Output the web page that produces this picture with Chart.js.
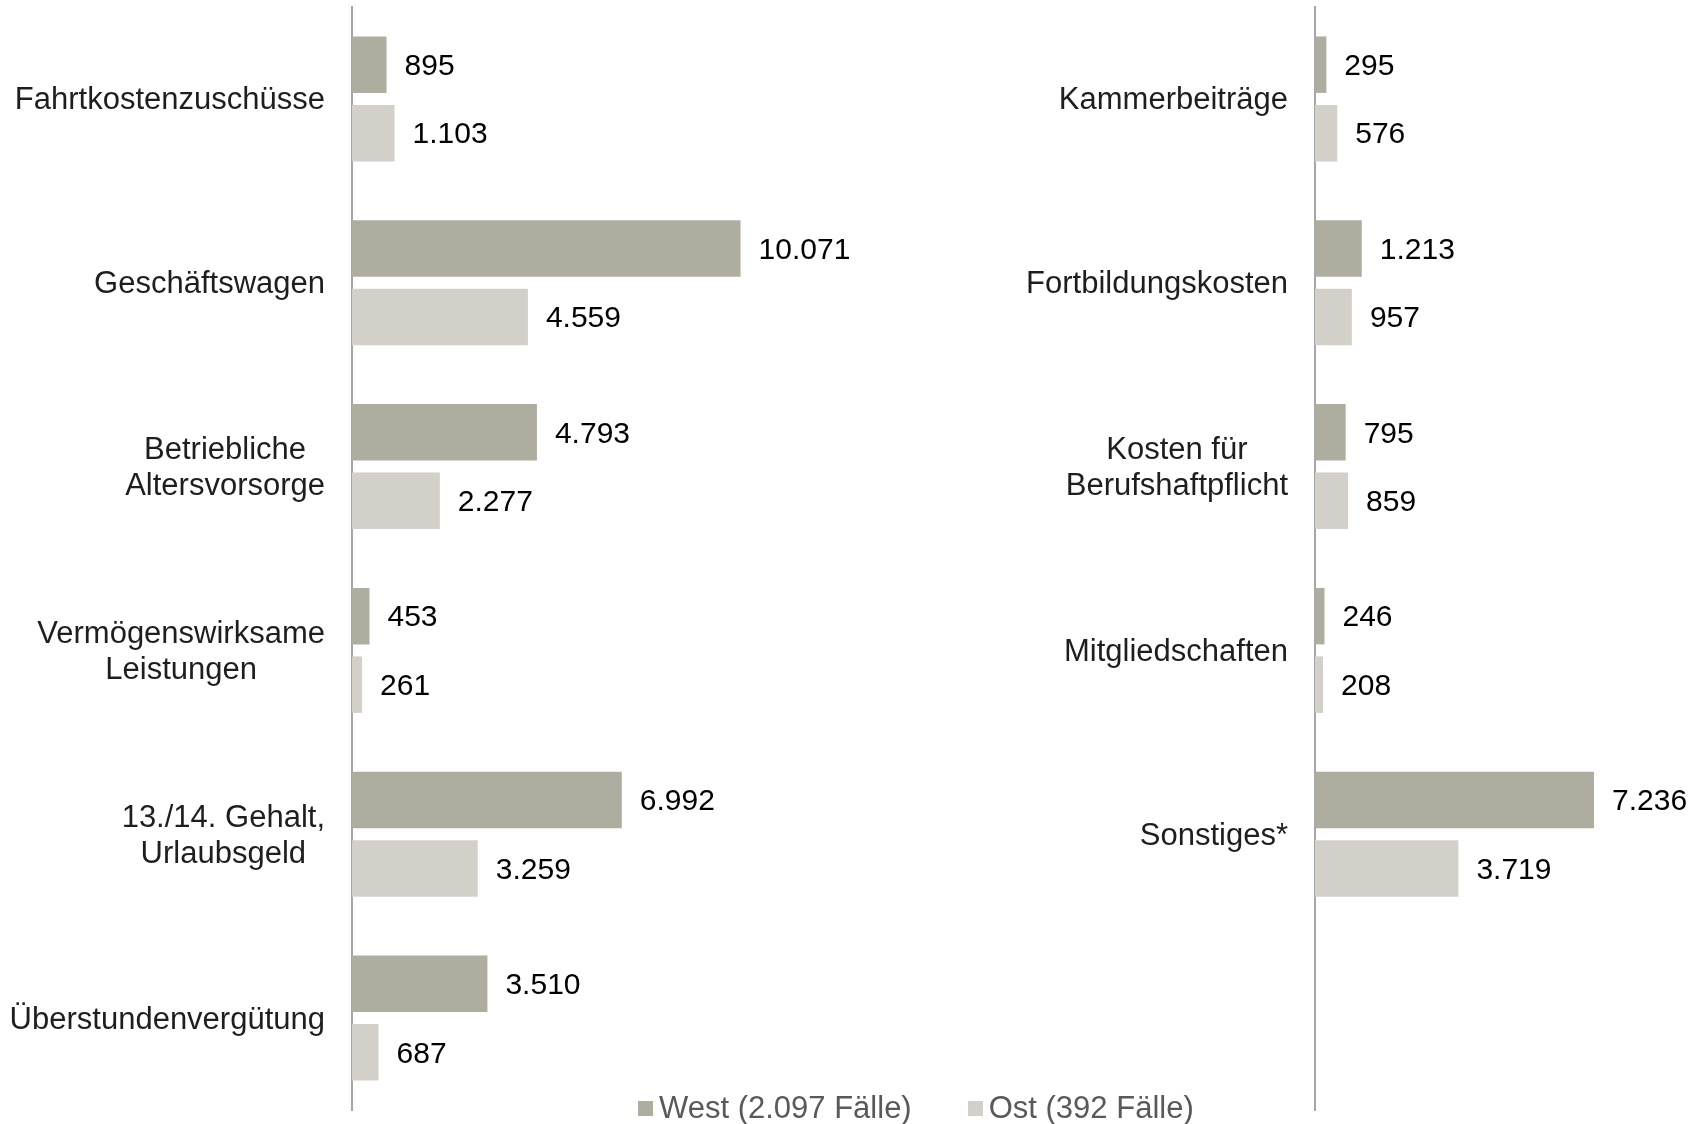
<!DOCTYPE html>
<html>
<head>
<meta charset="utf-8">
<script src="https://cdn.jsdelivr.net/npm/chart.js@4.4.1/dist/chart.umd.min.js"></script>
<style>
  body { margin: 0; background: #fff; width: 1695px; height: 1124px; overflow: hidden; position: relative; }
  canvas { position: absolute; top: 0; }
  #left { left: 0; }
  #right { left: 850px; }
  #legend {
    position: absolute; left: 638px; top: 1090px; height: 36px;
    display: flex; align-items: center;
    font: 31px "Liberation Sans", Arial, sans-serif; color: #595959;
  }
  #legend span.box { display: inline-block; width: 15px; height: 15px; margin-right: 6px; }
  #legend .item { display: flex; align-items: center; margin-right: 56px; }
</style>
</head>
<body>
<canvas id="left" width="850" height="1124"></canvas>
<canvas id="right" width="845" height="1124"></canvas>
<div id="legend">
  <div class="item"><span class="box" style="background:#afada0"></span>West (2.097 Fälle)</div>
  <div class="item"><span class="box" style="background:#d3d0c9"></span>Ost (392 Fälle)</div>
</div>
<script>
// Categories and values
const leftLabels = [
    'Fahrtkostenzuschüsse',
    'Geschäftswagen',
    ['Betriebliche', 'Altersvorsorge'],
    ['Vermögenswirksame', 'Leistungen'],
    ['13./14. Gehalt,', 'Urlaubsgeld'],
    'Überstundenvergütung'
];
const leftWest = [895, 10071, 4793, 453, 6992, 3510];
const leftOst = [1103, 4559, 2277, 261, 3259, 687];

const rightLabels = [
    'Kammerbeiträge',
    'Fortbildungskosten',
    ['Kosten für', 'Berufshaftpflicht'],
    'Mitgliedschaften',
    'Sonstiges*',
    ''
];
const rightWest = [295, 1213, 795, 246, 7236, null];
const rightOst = [576, 957, 859, 208, 3719, null];

const WEST_COLOR = '#afada0';
const OST_COLOR = '#d3d0c9';
const FONT = '30px "Liberation Sans", Arial, sans-serif';
const CAT_FONT = '31px "Liberation Sans", Arial, sans-serif';

function fmt(v) {
    return String(v).replace(/\B(?=(\d{3})+(?!\d))/g, '.');
}

const labelPlugin = {
    id: 'labels',
    afterDraw: chart => {
        const { ctx, chartArea } = chart;
        const yScale = chart.scales.y;
        ctx.save();
        ctx.textBaseline = 'middle';

        // category labels: right edge fixed, multi-line centred on each other
        ctx.font = CAT_FONT;
        ctx.fillStyle = '#1e1e1e';
        ctx.textAlign = 'center';
        chart.data.labels.forEach((lab, i) => {
            const lines = Array.isArray(lab) ? lab : [lab];
            if (!lines[0]) return;
            const maxW = Math.max(...lines.map(l => ctx.measureText(l).width));
            const cx = chartArea.left - 27 - maxW / 2;
            const y = yScale.getPixelForTick(i) + 2;
            lines.forEach((l, j) => {
                ctx.fillText(l, cx, y + (j - (lines.length - 1) / 2) * 36);
            });
        });

        // value labels
        ctx.font = FONT;
        ctx.fillStyle = '#000';
        ctx.textAlign = 'left';
        chart.data.datasets.forEach((ds, d) => {
            chart.getDatasetMeta(d).data.forEach((bar, i) => {
                const v = ds.data[i];
                if (v == null) return;
                ctx.fillText(fmt(v), bar.x + 18, bar.y + 2);
            });
        });
        ctx.restore();
    }
};

function makeChart(id, labels, west, ost, max, axisWidth, padRight) {
    return new Chart(document.getElementById(id), {
        type: 'bar',
        data: {
            labels: labels,
            datasets: [
                { label: 'West', data: west, backgroundColor: WEST_COLOR },
                { label: 'Ost', data: ost, backgroundColor: OST_COLOR }
            ]
        },
        options: {
            indexAxis: 'y',
            responsive: false,
            animation: false,
            categoryPercentage: 0.745,
            barPercentage: 0.825,
            layout: { padding: { top: 7, bottom: 14, left: 0, right: padRight } },
            plugins: { legend: { display: false }, tooltip: { enabled: false } },
            scales: {
                x: { display: false, min: 0, max: max },
                y: {
                    grid: { display: false },
                    ticks: { display: false },
                    border: { display: true, color: '#a6a6a6', width: 2 },
                    afterFit: s => { s.width = axisWidth; }
                }
            }
        },
        plugins: [labelPlugin]
    });
}

makeChart('left', leftLabels, leftWest, leftOst, 12000, 352, 35);
makeChart('right', rightLabels, rightWest, rightOst, 9000, 465, 33);
</script>
</body>
</html>
